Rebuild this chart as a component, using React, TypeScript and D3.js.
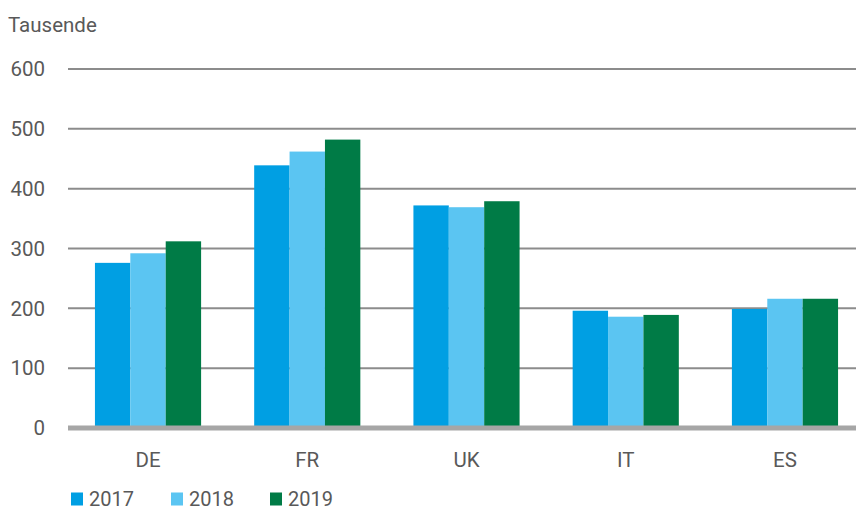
import React, { useRef, useEffect } from 'react';
import * as d3 from 'd3';

const countries = ['DE', 'FR', 'UK', 'IT', 'ES'];
const years = ['2017', '2018', '2019'];
const values2017 = [276, 439, 372, 196, 199];
const values2018 = [292, 462, 369, 186, 216];
const values2019 = [312, 482, 379, 189, 216];
const yTicks = [0, 100, 200, 300, 400, 500, 600];

const colors = ['#009fe3', '#5bc5f2', '#007b46'];
const textColor = '#595959';
const font = 'Roboto, "Noto Sans", sans-serif';

const App = () => {
    const svgRef = useRef<SVGSVGElement>(null);

    useEffect(() => {
        const width = 856;
        const svg = d3.select(svgRef.current);
        svg.selectAll('*').remove();

        const series = [values2017, values2018, values2019];

        const x = d3.scaleBand<string>()
            .domain(countries)
            .range([68.4, 864.6])
            .paddingInner(1 / 3)
            .paddingOuter(1 / 6);
        const xs = d3.scaleBand<string>()
            .domain(years)
            .range([0, x.bandwidth()]);
        const y = d3.scaleLinear().domain([0, 600]).range([428, 69]);

        // title
        svg.append('text')
            .attr('x', 8)
            .attr('y', 31.5)
            .attr('fill', textColor)
            .attr('font-size', 20.5)
            .attr('font-family', font)
            .text('Tausende');

        // gridlines
        svg.append('g')
            .selectAll('line')
            .data(yTicks.filter(t => t > 0))
            .join('line')
            .attr('x1', 68)
            .attr('x2', width)
            .attr('y1', d => y(d))
            .attr('y2', d => y(d))
            .attr('stroke', '#8c8c8c')
            .attr('stroke-width', 2);

        // tick labels
        svg.append('g')
            .selectAll('text')
            .data(yTicks)
            .join('text')
            .attr('x', 45)
            .attr('y', d => y(d))
            .attr('dy', '0.35em')
            .attr('text-anchor', 'end')
            .attr('fill', textColor)
            .attr('font-size', 20.5)
            .attr('font-family', font)
            .text(d => d);

        // bars
        series.forEach((vals, i) => {
            svg.append('g')
                .selectAll('rect')
                .data(vals)
                .join('rect')
                .attr('x', (d, j) => (x(countries[j]) ?? 0) + (xs(years[i]) ?? 0))
                .attr('y', d => y(d))
                .attr('width', xs.bandwidth())
                .attr('height', d => y(0) - y(d))
                .attr('fill', colors[i]);
        });

        // baseline
        svg.append('line')
            .attr('x1', 68)
            .attr('x2', width)
            .attr('y1', y(0))
            .attr('y2', y(0))
            .attr('stroke', '#a6a6a6')
            .attr('stroke-width', 5);

        // category labels
        svg.append('g')
            .selectAll('text')
            .data(countries)
            .join('text')
            .attr('x', d => (x(d) ?? 0) + x.bandwidth() / 2)
            .attr('y', 467)
            .attr('text-anchor', 'middle')
            .attr('fill', textColor)
            .attr('font-size', 20.5)
            .attr('font-family', font)
            .text(d => d);

        // legend
        const legendX = [71, 171, 270];
        const legend = svg.append('g')
            .selectAll('g')
            .data(years)
            .join('g')
            .attr('transform', (d, i) => `translate(${legendX[i]},0)`);
        legend.append('rect')
            .attr('x', 0)
            .attr('y', 492.5)
            .attr('width', 12)
            .attr('height', 13)
            .attr('fill', (d, i) => colors[i]);
        legend.append('text')
            .attr('x', 18)
            .attr('y', 505.5)
            .attr('fill', textColor)
            .attr('font-size', 20)
            .attr('font-family', font)
            .text(d => d);
    }, []);

    return (
        <svg
            ref={svgRef}
            width={856}
            height={511}
            style={{ position: 'absolute', left: 0, top: 0, display: 'block' }}
        ></svg>
    );
};

export default App;
